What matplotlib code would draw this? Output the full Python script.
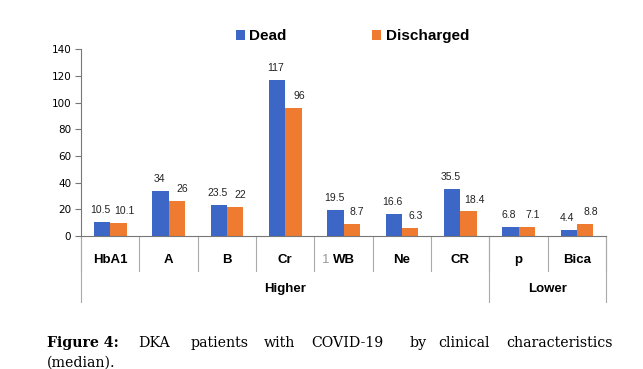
import numpy as np
import matplotlib.pyplot as plt
from matplotlib.lines import Line2D

# data
categories = ["HbA1", "A", "B", "Cr", "WB", "Ne", "CR", "p", "Bica"]
dead = [10.5, 34, 23.5, 117, 19.5, 16.6, 35.5, 6.8, 4.4]
discharged = [10.1, 26, 22, 96, 8.7, 6.3, 18.4, 7.1, 8.8]
groups = ["Higher", "Lower"]
group_sizes = [7, 2]

blue = "#3c67c6"
orange = "#ee7b30"

fig = plt.figure(figsize=(6.43, 3.69), dpi=100)
ax = fig.add_axes([0.126, 0.3604, 0.8165, 0.506])

x = np.arange(len(categories))
w = 0.28
ax.bar(x - w / 2, dead, w, color=blue, label="Dead", zorder=2)
ax.bar(x + w / 2, discharged, w, color=orange, label="Discharged", zorder=2)

# value labels
for i in range(len(x)):
    ax.annotate(f"{dead[i]:g}", (x[i] - w / 2, dead[i]), xytext=(-1, 5),
                textcoords="offset points", ha="center", va="bottom",
                fontsize=7.5, family="Liberation Sans", color="#222222")
    ax.annotate(f"{discharged[i]:g}", (x[i] + w / 2, discharged[i]), xytext=(4, 5),
                textcoords="offset points", ha="center", va="bottom",
                fontsize=7.5, family="Liberation Sans", color="#222222")

ax.set_xlim(-0.5, len(categories) - 0.5)
ax.set_ylim(0, 140)
ax.set_yticks(range(0, 141, 20))
ax.tick_params(axis="y", labelsize=7.5, length=4, color="#777777", pad=3)
ax.set_xticks([])
for s in ["top", "right"]:
    ax.spines[s].set_visible(False)
ax.spines["left"].set_color("#777777")
ax.spines["bottom"].set_color("#777777")

# category axis with group labels
trans = ax.get_xaxis_transform()
for b in np.arange(-0.5, len(categories), 1.0):
    ax.add_line(Line2D([b, b], [0, -0.19], transform=trans, color="#aaaaaa",
                       lw=0.8, clip_on=False))
edges = [-0.5]
for n in group_sizes:
    edges.append(edges[-1] + n)
for b in edges:
    ax.add_line(Line2D([b, b], [0, -0.355], transform=trans, color="#aaaaaa",
                       lw=0.8, clip_on=False))
for i, c in enumerate(categories):
    ax.text(x[i], -0.128, c, transform=trans, ha="center", va="center",
            fontsize=9.5, fontweight="bold", family="Liberation Sans")
ax.text(x[4] - 0.3, -0.128, "1", transform=trans, ha="center", va="center",
        fontsize=9.5, color="#999999", family="Liberation Sans")
for g, a, b in zip(groups, edges[:-1], edges[1:]):
    ax.text((a + b) / 2, -0.284, g, transform=trans, ha="center", va="center",
            fontsize=9.5, fontweight="bold", family="Liberation Sans")

ax.legend(loc="upper center", bbox_to_anchor=(0.517, 1.18), ncol=2, frameon=False,
          handlelength=0.6, handleheight=0.6, handletextpad=0.3, columnspacing=5.6,
          prop={"family": "Liberation Sans", "weight": "bold", "size": 11})

# caption, justified by hand
words = ["DKA", "patients", "with", "COVID-19", "by", "clinical", "characteristics"]
word_x = [138, 191, 264, 311, 410, 438, 506]
fig.text(47 / 643, 1 - 343 / 369, "Figure 4:", fontsize=10.2, fontweight="bold",
         family="DejaVu Serif", va="center")
for wd, px in zip(words, word_x):
    fig.text(px / 643, 1 - 343 / 369, wd, fontsize=10.2, family="DejaVu Serif",
             va="center")
fig.text(47 / 643, 1 - 363 / 369, "(median).", fontsize=10.2,
         family="DejaVu Serif", va="center")

fig.savefig("out.png", dpi=100)
